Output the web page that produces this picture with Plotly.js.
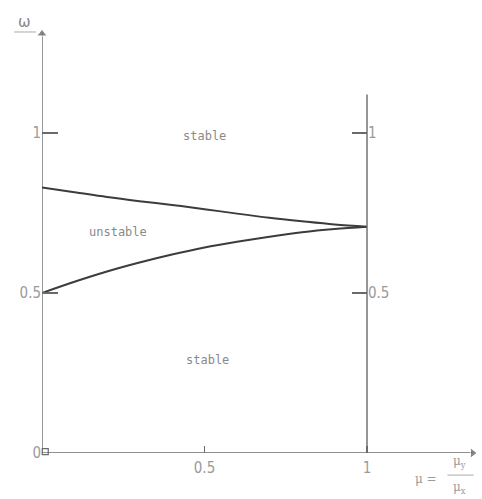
<!DOCTYPE html>
<html>
<head>
<meta charset="utf-8">
<script src="https://cdn.plot.ly/plotly-3.0.1.min.js"></script>
<style>
  html, body { margin: 0; padding: 0; background: #ffffff; }
  #plot { width: 482px; height: 499px; }
</style>
</head>
<body>
<div id="plot"></div>
<script>
// Stability boundaries of the frequency ratio omega against mu = mu_y / mu_x
const mu = [0, 0.1, 0.2, 0.3, 0.4, 0.5, 0.6, 0.7, 0.8, 0.9, 1.0];
const omegaUpper = [0.83, 0.815, 0.80, 0.787, 0.775, 0.762, 0.748, 0.735, 0.724, 0.714, 0.707];
const omegaLower = [0.50, 0.535, 0.567, 0.595, 0.62, 0.642, 0.66, 0.676, 0.69, 0.70, 0.707];

const xTickVals = [0.5, 1];
const xTickText = ['0.5', '1'];
const yTickVals = [0, 0.5, 1];
const yTickText = ['0', '0.5', '1'];
const rightTickVals = [0.5, 1];
const rightTickText = ['0.5', '1'];

// vertical reference line at mu = 1
const refLineX = [1, 1];
const refLineY = [0, 1.12];

// axis extents (ends carry the arrow heads)
const xAxisEnd = 1.325;
const yAxisEnd = 1.31;

const regionLabels = [
  { text: 'stable', x: 0.5, y: 0.99 },
  { text: 'unstable', x: 0.234, y: 0.69 },
  { text: 'stable', x: 0.51, y: 0.29 }
];

const xMax = 1.3415, yMax = 1.328;
const axisColor = '#6a6a6a';
const curveColor = '#3c3c3c';
const textColor = '#8a8a8a';
const numFont = { family: 'DejaVu Sans Condensed, DejaVu Sans, sans-serif', size: 15, color: '#9a9a9a' };
const wordFont = { family: 'DejaVu Sans Mono, monospace', size: 12, color: textColor };
const muFont = { family: 'DejaVu Serif, serif', size: 12, color: '#9a9a9a' };

const traces = [
  // axes
  { x: [0, xAxisEnd], y: [0, 0], mode: 'lines', line: { color: axisColor, width: 1.4 }, cliponaxis: false, hoverinfo: 'skip' },
  { x: [0, 0], y: [0, yAxisEnd], mode: 'lines', line: { color: axisColor, width: 1.4 }, cliponaxis: false, hoverinfo: 'skip' },
  { x: [xAxisEnd], y: [0], mode: 'markers', cliponaxis: false, hoverinfo: 'skip',
    marker: { symbol: 'triangle-right', size: [9], color: '#555' } },
  { x: [0], y: [yAxisEnd], mode: 'markers', cliponaxis: false, hoverinfo: 'skip',
    marker: { symbol: 'triangle-up', size: [9], color: '#555' } },
  // stability boundaries
  { x: mu, y: omegaUpper, mode: 'lines', line: { color: curveColor, width: 2, shape: 'spline' }, hoverinfo: 'skip' },
  { x: mu, y: omegaLower, mode: 'lines', line: { color: curveColor, width: 2, shape: 'spline' }, hoverinfo: 'skip' },
  { x: refLineX, y: refLineY, mode: 'lines', line: { color: axisColor, width: 1.4 }, hoverinfo: 'skip' },
  // origin mark
  { x: [0.01], y: [0.004], mode: 'markers', cliponaxis: false,
    marker: { symbol: 'square-open', size: 6, color: axisColor, line: { width: 1.2 } }, hoverinfo: 'skip' },
  // carrier for the right-hand scale at mu = 1
  { x: refLineX, y: refLineY, yaxis: 'y2', mode: 'lines', line: { color: 'rgba(0,0,0,0)', width: 0 }, hoverinfo: 'skip' }
];

const annotations = regionLabels.map(r => ({
  x: r.x, y: r.y, xref: 'x', yref: 'y', text: r.text, showarrow: false, font: wordFont
}));

// axis names
annotations.push({ x: -0.041, y: 1.014, xref: 'paper', yref: 'paper', xanchor: 'center', yanchor: 'middle',
  text: 'ω', showarrow: false, font: { family: 'DejaVu Sans, sans-serif', size: 15, color: '#888' } });
annotations.push({ x: 0.88, y: -0.062, xref: 'paper', yref: 'paper', xanchor: 'center', yanchor: 'middle',
  text: 'μ =', showarrow: false, font: muFont });
annotations.push({ x: 0.958, y: -0.02, xref: 'paper', yref: 'paper', xanchor: 'center', yanchor: 'middle',
  text: 'μ<sub>y</sub>', showarrow: false, font: muFont });
annotations.push({ x: 0.958, y: -0.083, xref: 'paper', yref: 'paper', xanchor: 'center', yanchor: 'middle',
  text: 'μ<sub>x</sub>', showarrow: false, font: muFont });

const shapes = [
  { type: 'line', xref: 'paper', yref: 'paper', x0: -0.064, x1: -0.014, y0: 0.9906, y1: 0.9906,
    line: { color: '#aaa', width: 1 } },
  { type: 'line', xref: 'paper', yref: 'paper', x0: 0.93, x1: 0.99, y0: -0.052, y1: -0.052,
    line: { color: '#aaa', width: 1 } }
];

const layout = {
  width: 482, height: 499,
  margin: { l: 42, r: 4, t: 28, b: 46 },
  paper_bgcolor: '#ffffff', plot_bgcolor: '#ffffff',
  showlegend: false,
  xaxis: {
    range: [0, xMax], showgrid: false, zeroline: false, showline: false,
    tickvals: xTickVals, ticktext: xTickText, ticks: 'inside', ticklen: 7,
    tickcolor: axisColor, tickwidth: 1.2, tickfont: numFont, ticklabelstandoff: 4, fixedrange: true
  },
  yaxis: {
    range: [0, yMax], showgrid: false, zeroline: false, showline: false,
    tickvals: yTickVals, ticktext: yTickText, ticks: 'inside', ticklen: 16,
    tickcolor: axisColor, tickwidth: 1.2, tickfont: numFont, fixedrange: true
  },
  yaxis2: {
    range: [0, yMax], overlaying: 'y', anchor: 'free', side: 'right', position: 1 / xMax,
    showgrid: false, zeroline: false, showline: false,
    tickvals: rightTickVals, ticktext: rightTickText, ticks: 'inside', ticklen: 15,
    tickcolor: axisColor, tickwidth: 1.2, tickfont: numFont, fixedrange: true
  },
  annotations: annotations,
  shapes: shapes
};

Plotly.newPlot('plot', traces, layout, { displayModeBar: false, staticPlot: true });
</script>
</body>
</html>
